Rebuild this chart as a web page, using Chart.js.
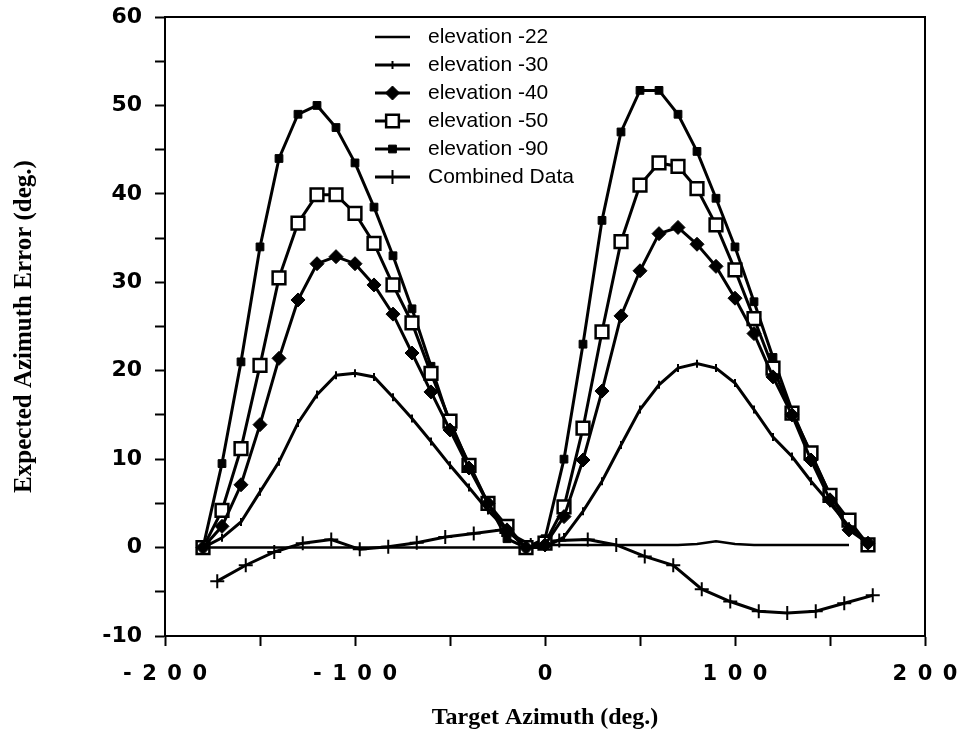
<!DOCTYPE html>
<html>
<head>
<meta charset="utf-8">
<script src="https://cdn.jsdelivr.net/npm/chart.js@4.4.0/dist/chart.umd.min.js"></script>
<style>
  body { margin: 0; background: #fff; }
</style>
</head>
<body>
<canvas id="chart" width="958" height="745"></canvas>
<script>
// target azimuth for the elevation runs (deg)
const azimuth = [-180, -170, -160, -150, -140, -130, -120, -110, -100, -90, -80, -70, -60, -50, -40, -30, -20, -10,
  0, 10, 20, 30, 40, 50, 60, 70, 80, 90, 100, 110, 120, 130, 140, 150, 160, 170];
const azimuth22 = azimuth.slice(0, 35);
const azimuthCombined = [-172.5, -157.5, -142.5, -127.5, -112.5, -97.5, -82.5, -67.5, -52.5, -37.5, -22.5, -7.5,
  7.5, 22.5, 37.5, 52.5, 67.5, 82.5, 97.5, 112.5, 127.5, 142.5, 157.5, 172.5];

// expected azimuth error (deg)
const elev22 = [0, 0, 0, 0, 0, 0, 0, 0, 0, 0, 0, 0, 0, 0, 0, 0, 0, 0,
  0.3, 0.3, 0.3, 0.3, 0.3, 0.3, 0.3, 0.3, 0.4, 0.7, 0.4, 0.3, 0.3, 0.3, 0.3, 0.3, 0.3];
const elev30 = [0, 1.1, 2.9, 6.3, 9.7, 14.1, 17.3, 19.5, 19.7, 19.3, 17, 14.6, 12, 9.3, 6.8, 4.2, 2, 0,
  0, 1.2, 4.1, 7.5, 11.6, 15.6, 18.4, 20.3, 20.8, 20.3, 18.6, 15.6, 12.5, 10.3, 7.5, 5, 2.4, 0.3];
const elev40 = [0, 2.4, 7.1, 13.9, 21.4, 28, 32.1, 32.9, 32.1, 29.7, 26.4, 22, 17.6, 13.3, 9, 5, 2, 0,
  0.3, 3.5, 9.9, 17.7, 26.2, 31.3, 35.5, 36.2, 34.3, 31.8, 28.2, 24.2, 19.3, 15, 9.9, 5.4, 2, 0.5];
const elev50 = [0, 4.2, 11.2, 20.6, 30.5, 36.7, 39.9, 39.9, 37.8, 34.4, 29.7, 25.4, 19.7, 14.3, 9.3, 5, 2.4, 0,
  0.5, 4.6, 13.5, 24.4, 34.6, 41, 43.5, 43.1, 40.6, 36.5, 31.4, 25.9, 20.3, 15.2, 10.7, 5.9, 3.1, 0.3];
const elev90 = [0, 9.5, 21, 34, 44, 49, 50, 47.5, 43.5, 38.5, 33, 27, 20.5, 14, 9.5, 5, 1, 0,
  1, 10, 23, 37, 47, 51.7, 51.7, 49, 44.8, 39.5, 34, 27.8, 21.5, 15.5, 10.5, 6, 2.5, 0.5];
const combined = [-3.8, -2, -0.5, 0.5, 0.9, -0.2, 0.1, 0.55, 1.2, 1.6, 2, 0.3,
  0.8, 0.9, 0.3, -1, -2, -4.7, -6.1, -7.2, -7.4, -7.2, -6.3, -5.4];

const seriesNames = ["elevation -22", "elevation -30", "elevation -40", "elevation -50", "elevation -90", "Combined Data"];

// axis ticks
const xTickLabels = { "-200": "-\u20022\u20020\u20020", "-100": "-\u20021\u20020\u20020", "0": "0", "100": "1\u20020\u20020", "200": "2\u20020\u20020" };
const yTickLabels = [-10, 0, 10, 20, 30, 40, 50, 60];

const toPoints = (xs, ys) => xs.map((x, i) => ({ x: x, y: ys[i] }));

const sets = [
  { data: toPoints(azimuth22, elev22), pointRadius: 0, borderWidth: 2.5 },
  { data: toPoints(azimuth, elev30), pointStyle: "line", pointRotation: 90, pointRadius: 4, pointBorderWidth: 2 },
  { data: toPoints(azimuth, elev40), pointStyle: "rectRot", pointRadius: 7, pointBackgroundColor: "#000" },
  { data: toPoints(azimuth, elev50), pointStyle: "rect", pointRadius: 9, pointBackgroundColor: "#fff", pointBorderWidth: 2.5 },
  { data: toPoints(azimuth, elev90), pointStyle: "rect", pointRadius: 5.5, pointBackgroundColor: "#000" },
  { data: toPoints(azimuthCombined, combined), pointStyle: "cross", pointRadius: 7, pointBorderWidth: 2 },
];

const datasets = sets.map((s, i) => Object.assign({
  label: seriesNames[i],
  borderColor: "#000",
  borderWidth: 3,
  pointBorderColor: "#000",
  pointBackgroundColor: "#000",
  pointBorderWidth: 1,
  tension: 0,
  fill: false,
}, s));

//legend drawn inside the plot, one row per series
const insideLegend = {
  id: "insideLegend",
  afterDraw(chart) {
    const ctx = chart.ctx;
    const area = chart.chartArea;
    ctx.save();
    ctx.font = '21px "Liberation Sans", Arial, sans-serif';
    ctx.textBaseline = "middle";
    chart.data.datasets.forEach((ds, i) => {
      const y = area.top + 20 + i * 28;
      const x0 = area.left + 210;
      const x1 = area.left + 245;
      ctx.strokeStyle = "#000";
      ctx.lineWidth = ds.borderWidth;
      ctx.beginPath();
      ctx.moveTo(x0, y);
      ctx.lineTo(x1, y);
      ctx.stroke();
      if (ds.pointRadius > 0) {
        ctx.fillStyle = ds.pointBackgroundColor;
        ctx.lineWidth = ds.pointBorderWidth;
        Chart.helpers.drawPoint(ctx, {
          pointStyle: ds.pointStyle,
          radius: ds.pointRadius,
          rotation: ds.pointRotation || 0,
          borderWidth: ds.pointBorderWidth,
        }, (x0 + x1) / 2, y);
      }
      ctx.fillStyle = "#000";
      ctx.fillText(ds.label, area.left + 263, y);
    });
    ctx.restore();
  },
};

//box round the plot area
const frame = {
  id: "frame",
  afterDraw(chart) {
    const a = chart.chartArea;
    const ctx = chart.ctx;
    ctx.save();
    ctx.strokeStyle = "#000";
    ctx.lineWidth = 2;
    ctx.strokeRect(a.left, a.top, a.right - a.left, a.bottom - a.top);
    ctx.restore();
  },
};

const titleFamily = '"Liberation Serif", "Times New Roman", serif';

new Chart(document.getElementById("chart"), {
  type: "line",
  data: { datasets: datasets },
  plugins: [frame, insideLegend],
  options: {
    responsive: false,
    animation: false,
    layout: { padding: { top: 17, right: 33, left: 0, bottom: 0 } },
    plugins: {
      legend: { display: false },
      tooltip: { enabled: false },
    },
    scales: {
      x: {
        type: "linear",
        min: -200,
        max: 200,
        afterFit: (scale) => {
          scale.height = 109;
          scale.paddingLeft = 0;
          scale.paddingRight = 0;
        },
        ticks: {
          stepSize: 50,
          autoSkip: false,
          maxRotation: 0,
          padding: 16,
          color: "#000",
          font: { family: '"DejaVu Sans", sans-serif', weight: "bold", size: 21 },
          callback: (v) => (xTickLabels[v] !== undefined ? xTickLabels[v] : ""),
        },
        grid: { drawOnChartArea: false, tickLength: 10, tickWidth: 2, tickColor: "#000" },
        border: { color: "#000", width: 2 },
        title: { display: true, text: "Target Azimuth (deg.)", color: "#000", font: { family: titleFamily, weight: "bold", size: 24 }, padding: { top: 0, bottom: 13 } },
      },
      y: {
        type: "linear",
        min: -10,
        max: 60,
        afterFit: (scale) => {
          scale.width = 165;
          scale.paddingTop = 0;
          scale.paddingBottom = 0;
        },
        ticks: {
          stepSize: 5,
          autoSkip: false,
          padding: 13,
          color: "#000",
          font: { family: '"DejaVu Sans", sans-serif', weight: "bold", size: 22 },
          callback: (v) => (yTickLabels.includes(v) ? String(v) : ""),
        },
        grid: { drawOnChartArea: false, tickLength: 10, tickWidth: 2, tickColor: "#000" },
        border: { color: "#000", width: 2 },
        title: { display: true, text: "Expected Azimuth Error (deg.)", color: "#000", font: { family: titleFamily, weight: "bold", size: 25 }, padding: { top: 10, bottom: 0 } },
      },
    },
  },
});
</script>
</body>
</html>
